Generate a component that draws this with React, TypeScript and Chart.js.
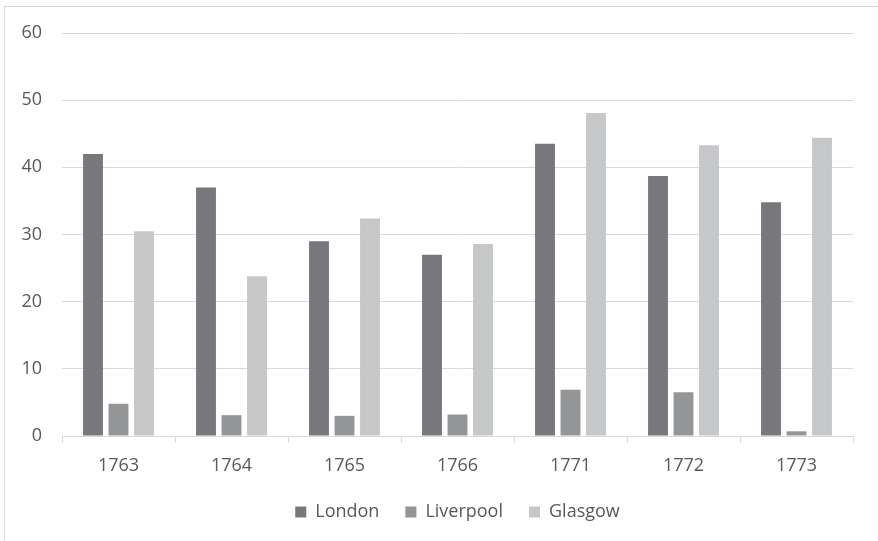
import React, { useEffect, useRef } from "react";
import { Chart, registerables } from "chart.js";

Chart.register(...registerables);

const categories = ["1763", "1764", "1765", "1766", "1771", "1772", "1773"];
const london = [42, 37, 29, 27, 43.5, 38.7, 34.8];
const liverpool = [4.8, 3.1, 3.0, 3.2, 6.9, 6.5, 0.7];
const glasgow = [30.5, 23.8, 32.4, 28.6, 48.1, 43.3, 44.4];
const yTicks = [0, 10, 20, 30, 40, 50, 60];

const FONT = "'Open Sans', sans-serif";

const framePlugin = {
  id: "frame",
  beforeDraw(chart: any) {
    const ctx = chart.ctx;
    ctx.save();
    ctx.fillStyle = "#ffffff";
    ctx.fillRect(0, 0, chart.width, chart.height);
    ctx.strokeStyle = "#d9d9d9";
    ctx.lineWidth = 1;
    ctx.strokeRect(4.5, 6.5, 2000, 2000);
    ctx.restore();
  },
};

export default function App() {
  const ref = useRef<HTMLCanvasElement | null>(null);
  useEffect(() => {
    if (!ref.current) return;
    const chart = new Chart(ref.current, {
      type: "bar",
      data: {
        labels: categories,
        datasets: [
          { label: "London", data: london, backgroundColor: "#77787b" },
          { label: "Liverpool", data: liverpool, backgroundColor: "#949596" },
          { label: "Glasgow", data: glasgow, backgroundColor: "#c6c7c9" },
        ],
      },
      options: {
        animation: false,
        responsive: false,
        maintainAspectRatio: false,
        layout: { padding: { top: 33, right: 25, bottom: 10, left: 0 } },
        datasets: { bar: { categoryPercentage: 0.677, barPercentage: 0.78 } },
        plugins: {
          legend: {
            position: "bottom",
            fullSize: false,
            labels: {
              font: { family: FONT, size: 18 },
              color: "#595959",
              boxWidth: 11,
              boxHeight: 11,
              padding: 26,
            },
          },
          tooltip: { enabled: false },
        },
        scales: {
          x: {
            grid: {
              offset: true,
              drawOnChartArea: false,
              drawTicks: true,
              tickLength: 7,
              color: "#d9d9d9",
            },
            border: { display: true, color: "#d9d9d9" },
            ticks: { font: { family: FONT, size: 18 }, color: "#595959", padding: 12 },
            afterFit(scale: any) {
              scale.height = 41;
            },
          },
          y: {
            min: 0,
            max: 60,
            afterBuildTicks(scale: any) {
              scale.ticks = yTicks.map((v) => ({ value: v }));
            },
            grid: { color: "#d9d9d9", drawTicks: false },
            border: { display: false },
            ticks: { font: { family: FONT, size: 18 }, color: "#595959", padding: 20 },
            afterFit(scale: any) {
              scale.width = 62;
            },
          },
        },
      } as any,
      plugins: [framePlugin],
    });
    return () => chart.destroy();
  }, []);
  return (
    <div style={{ position: "fixed", left: 0, top: 0, width: 878, height: 541 }}>
      <canvas ref={ref} width={878} height={541} style={{ display: "block" }} />
    </div>
  );
}
